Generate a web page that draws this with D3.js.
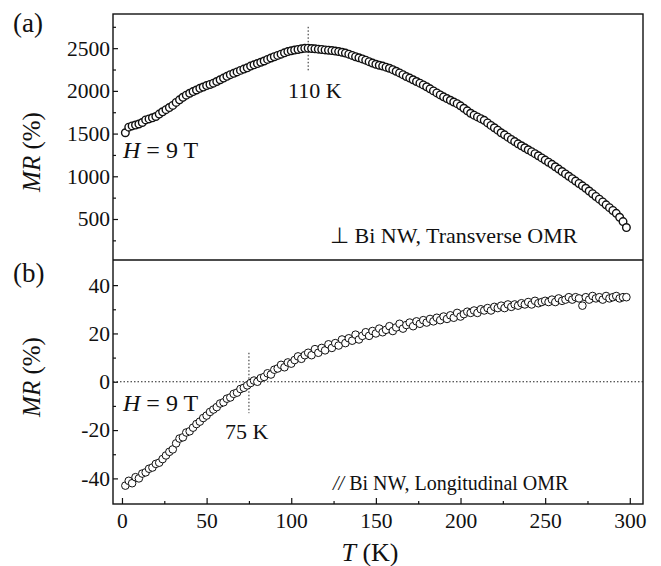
<!DOCTYPE html>
<html>
<head>
<meta charset="utf-8">
<script src="https://cdn.jsdelivr.net/npm/d3@7"></script>
<style>
  body { margin: 0; background: #fff; }
</style>
</head>
<body>
<svg id="chart" width="661" height="566"></svg>
<script>
// temperature (K) for both panels
var tempK = [
  2,4,6,8,10,12,14,16,18,20,
  22,24,26,28,30,32,34,36,38,40,
  42,44,46,48,50,52,54,56,58,60,
  62,64,66,68,70,72,74,76,78,80,
  82,84,86,88,90,92,94,96,98,100,
  102,104,106,108,110,112,114,116,118,120,
  122,124,126,128,130,132,134,136,138,140,
  142,144,146,148,150,152,154,156,158,160,
  162,164,166,168,170,172,174,176,178,180,
  182,184,186,188,190,192,194,196,198,200,
  202,204,206,208,210,212,214,216,218,220,
  222,224,226,228,230,232,234,236,238,240,
  242,244,246,248,250,252,254,256,258,260,
  262,264,266,268,270,272,274,276,278,280,
  282,284,286,288,290,292,294,296,298
];

// (a) transverse MR (%)
var mrTransverse = [
  1510,1575,1590,1600,1612,1630,1660,1672,1685,1700,
  1728,1755,1780,1805,1830,1865,1895,1925,1950,1972,
  1992,2010,2030,2045,2062,2075,2090,2110,2130,2150,
  2170,2190,2205,2222,2240,2255,2270,2290,2305,2320,
  2335,2350,2368,2385,2400,2415,2430,2445,2460,2470,
  2478,2485,2492,2498,2500,2496,2492,2488,2485,2480,
  2476,2472,2466,2460,2452,2442,2430,2415,2400,2388,
  2374,2360,2342,2325,2312,2300,2290,2278,2265,2248,
  2230,2210,2190,2167,2150,2130,2110,2090,2070,2048,
  2024,2000,1976,1953,1930,1910,1890,1870,1850,1825,
  1796,1766,1738,1716,1695,1675,1655,1625,1596,1568,
  1540,1510,1485,1458,1432,1406,1380,1357,1334,1311,
  1288,1265,1240,1215,1190,1165,1140,1112,1084,1056,
  1028,1000,972,944,916,888,860,828,796,764,
  732,700,666,633,600,566,520,470,400
];

// (b) longitudinal MR (%)
var mrLongitudinal = [
  -43,-41,-42,-39.5,-40,-38,-37.5,-36,-35.5,-34,
  -33.5,-32,-30.5,-29,-28,-25.5,-23.5,-23,-21,-20.5,
  -19,-17.5,-16.5,-15,-14,-12.5,-11.5,-10.5,-9,-8.5,
  -7,-6.5,-5,-4.5,-3,-2.5,-1.5,-0.5,0.5,0,
  1.5,2,3.5,3,5,5.5,7,6,8,7.5,
  9,10.5,9.5,11,12,11,13.5,12,14,13,
  15.5,14,16,15,17.5,16,18,17,19.5,17.5,
  19,20.5,19,21,20,22,20.5,21.5,23,21,
  22.5,24,22,23.5,24.5,23,25,24,25.5,24.5,
  26,25,26.5,25.5,27,26,27.5,26.5,28.5,27,
  28,29,28.5,29.5,28.5,30,29.5,30.5,29.5,31,
  30.5,31.5,30.5,32,31,32,31.5,32.5,32,33,
  32,33.5,32.5,33,33.5,33,34,33,34.5,33.5,
  34,35,34,35,34.5,31.5,35,34,35.5,34.5,
  35,34,35.5,34.5,35,35.5,34.5,35,35
];

var xTicks = [0, 50, 100, 150, 200, 250, 300],
    xMinor = [25, 75, 125, 175, 225, 275],
    yTicksA = [500, 1000, 1500, 2000, 2500],
    yMinorA = [250, 750, 1250, 1750, 2250, 2750],
    yTicksB = [-40, -20, 0, 20, 40],
    yMinorB = [-30, -10, 10, 30];

var serif = '"Liberation Serif", "Times New Roman", serif';

var svg = d3.select('#chart');

var left = 113, right = 643,
    topA = 14, mid = 260, bottomB = 504;

var x = d3.scaleLinear().domain([-5.3, 307.8]).range([left, right]),
    yA = d3.scaleLinear().domain([20, 2900]).range([mid, topA]),
    yB = d3.scaleLinear().domain([-50.6, 50.4]).range([bottomB, mid]);

var fmt = function(d) { return String(d); };

function styleAxis(g) {
    g.attr('font-family', null).attr('font-size', null);
    g.select('.domain').remove();
    g.selectAll('line').attr('stroke', '#111').attr('stroke-width', 1.2);
    g.selectAll('text').style('font-size', '21.5px').attr('fill', '#111');
}

// y axes (ticks point inward)
svg.append('g').attr('transform', 'translate(' + left + ',0)')
    .call(d3.axisLeft(yA).tickValues(yTicksA).tickSize(-5).tickPadding(3).tickFormat(fmt)).call(styleAxis);
svg.append('g').attr('transform', 'translate(' + left + ',0)')
    .call(d3.axisLeft(yA).tickValues(yMinorA).tickSize(-3).tickFormat('')).call(styleAxis);
svg.append('g').attr('transform', 'translate(' + left + ',0)')
    .call(d3.axisLeft(yB).tickValues(yTicksB).tickSize(-5).tickPadding(3).tickFormat(fmt)).call(styleAxis);
svg.append('g').attr('transform', 'translate(' + left + ',0)')
    .call(d3.axisLeft(yB).tickValues(yMinorB).tickSize(-3).tickFormat('')).call(styleAxis);

// x axis
svg.append('g').attr('transform', 'translate(0,' + bottomB + ')')
    .call(d3.axisBottom(x).tickValues(xTicks).tickSize(-6).tickPadding(9).tickFormat(fmt)).call(styleAxis);
svg.append('g').attr('transform', 'translate(0,' + bottomB + ')')
    .call(d3.axisBottom(x).tickValues(xMinor).tickSize(-3).tickFormat('')).call(styleAxis);

// frames
svg.append('rect').attr('x', left).attr('y', topA).attr('width', right - left).attr('height', bottomB - topA)
    .attr('fill', 'none').attr('stroke', '#111').attr('stroke-width', 1.4);
svg.append('line').attr('x1', left).attr('x2', right).attr('y1', mid).attr('y2', mid)
    .attr('stroke', '#111').attr('stroke-width', 1.4);

// dotted guide lines
function guide(x1, y1, x2, y2) {
    svg.append('line').attr('x1', x1).attr('y1', y1).attr('x2', x2).attr('y2', y2)
        .attr('stroke', '#222').attr('stroke-width', 1).attr('stroke-dasharray', '1.5,2');
}
guide(x(110), yA(2750), x(110), yA(2220));
guide(left, yB(0), right, yB(0));
guide(x(75), yB(12), x(75), yB(-13));

// data points
var dataA = tempK.map(function(t, i) { return { t: t, v: mrTransverse[i] }; }),
    dataB = tempK.map(function(t, i) { return { t: t, v: mrLongitudinal[i] }; });

svg.append('g').selectAll('circle').data(dataA).enter().append('circle')
    .attr('cx', function(d) { return x(d.t); })
    .attr('cy', function(d) { return yA(d.v); })
    .attr('r', 3.8).attr('fill', '#fff').attr('stroke', '#111').attr('stroke-width', 1.4);

svg.append('g').selectAll('circle').data(dataB).enter().append('circle')
    .attr('cx', function(d) { return x(d.t); })
    .attr('cy', function(d) { return yB(d.v); })
    .attr('r', 3.8).attr('fill', '#fff').attr('stroke', '#111').attr('stroke-width', 1);

// text labels
function label(xp, yp, size, parts, anchor) {
    var t = svg.append('text').attr('x', xp).attr('y', yp).style('font-size', size + 'px')
        .attr('text-anchor', anchor || 'start');
    parts.forEach(function(p) {
        t.append('tspan').text(p[0]).style('font-style', p[1] ? 'italic' : 'normal');
    });
    return t;
}

label(13, 32, 27, [['(a)']]);
label(13, 282, 27, [['(b)']]);
label(288, 98, 22, [['110 K']]);
label(123, 158, 24, [['H', 1], [' = 9 T']]);
label(123, 411, 24, [['H', 1], [' = 9 T']]);
label(225, 439, 22, [['75 K']]);
label(330, 243, 22, [['\u22A5 Bi NW, Transverse OMR']]);
label(333, 490, 20, [['//', 1], [' Bi NW, Longitudinal OMR']]);

label(370, 561, 26, [['T', 1], [' (K)']], 'middle');
label(0, 0, 25, [['MR', 1], [' (%)']], 'middle').attr('transform', 'translate(40,152) rotate(-90)');
label(0, 0, 25, [['MR', 1], [' (%)']], 'middle').attr('transform', 'translate(40,377) rotate(-90)');

// serif face on every text
svg.selectAll('text').style('font-family', serif).style('fill', '#111');
</script>
</body>
</html>
